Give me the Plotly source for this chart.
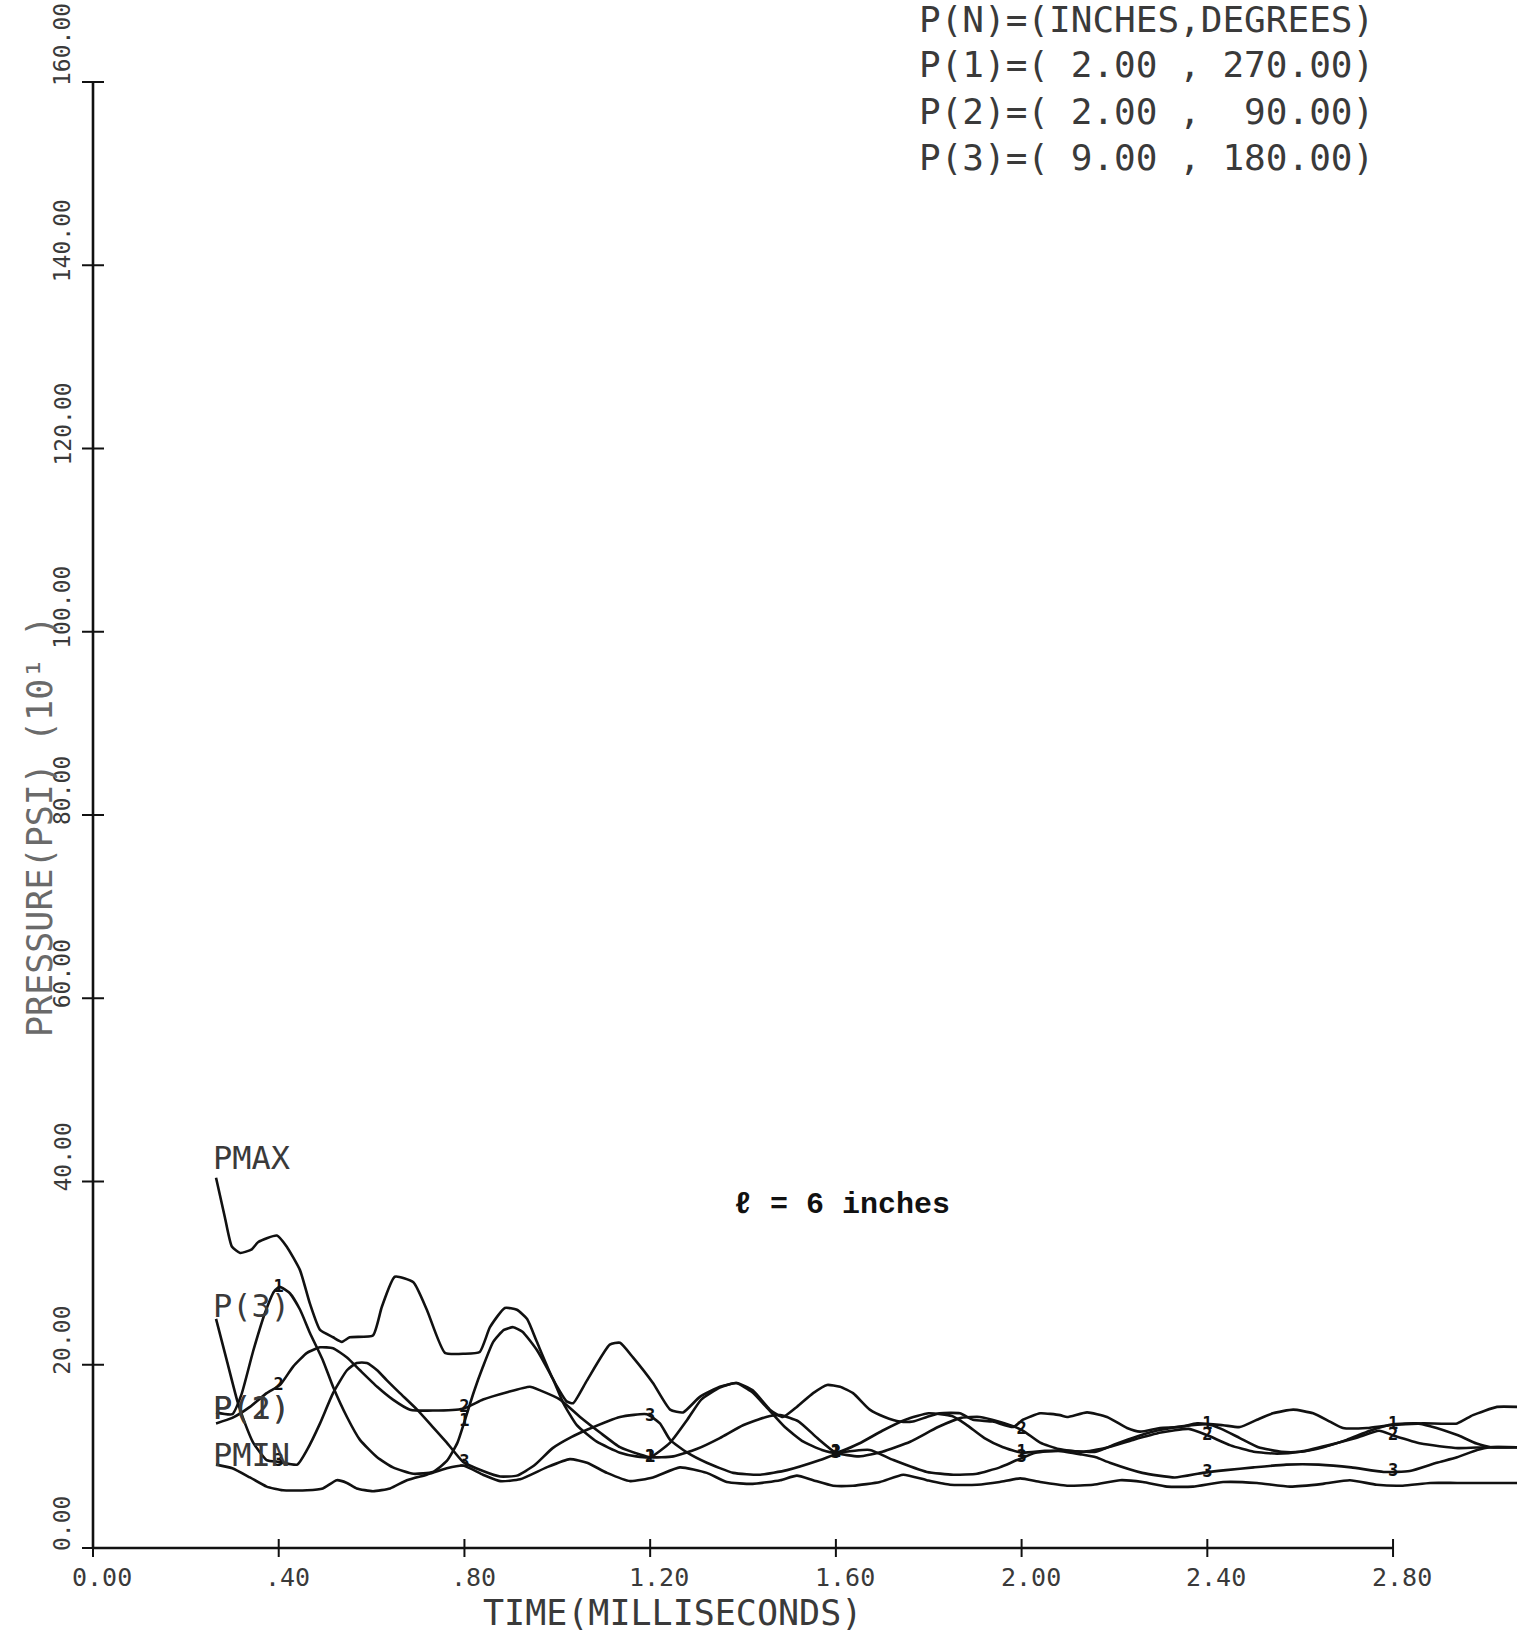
import numpy as np
import plotly.graph_objects as go

# ---- pressure histories: (time in ms, pressure in psi x 10) ----
pmax = [(0.265, 40.4), (0.284, 36.1), (0.299, 32.9), (0.317, 32.2), (0.342, 32.6), (0.356, 33.4),
        (0.396, 34.1), (0.417, 32.9), (0.446, 30.3), (0.467, 26.7), (0.489, 23.8), (0.517, 23.0),
        (0.536, 22.5), (0.553, 23.0), (0.603, 23.2), (0.622, 26.3), (0.650, 29.6), (0.690, 29.0),
        (0.719, 26.0), (0.758, 21.3), (0.800, 21.2), (0.833, 21.4), (0.855, 24.1), (0.887, 26.2),
        (0.913, 26.0), (0.935, 25.0), (0.956, 22.5), (0.990, 18.5), (1.020, 16.0), (1.034, 15.8),
        (1.064, 18.3), (1.113, 22.2), (1.135, 22.4), (1.163, 20.8), (1.206, 18.0), (1.243, 15.1),
        (1.271, 14.8), (1.307, 16.5), (1.350, 17.6), (1.387, 18.0), (1.421, 17.2), (1.458, 15.1),
        (1.486, 14.3), (1.516, 15.4), (1.551, 16.9), (1.581, 17.8), (1.609, 17.6), (1.637, 16.9),
        (1.673, 15.1), (1.705, 14.3), (1.738, 13.8), (1.766, 13.8), (1.796, 14.3), (1.824, 14.7),
        (1.867, 14.7), (1.895, 14.0), (1.938, 13.8), (1.982, 13.2), (2.003, 14.0), (2.040, 14.7),
        (2.083, 14.5), (2.098, 14.3), (2.141, 14.8), (2.184, 14.3), (2.227, 13.1), (2.255, 12.7),
        (2.298, 13.1), (2.341, 13.2), (2.378, 13.6), (2.434, 13.4), (2.470, 13.2), (2.507, 14.0),
        (2.541, 14.7), (2.585, 15.1), (2.628, 14.7), (2.664, 13.8), (2.692, 13.1), (2.744, 13.1),
        (2.793, 13.4), (2.865, 13.6), (2.938, 13.6), (2.972, 14.5), (3.024, 15.4), (3.067, 15.4)]

p1 = [(0.265, 14.8), (0.300, 14.6), (0.320, 16.8), (0.345, 21.5), (0.370, 25.6), (0.390, 28.0),
      (0.402, 28.5), (0.424, 27.8), (0.446, 26.0), (0.467, 23.5), (0.495, 20.5), (0.517, 17.6),
      (0.547, 14.3), (0.575, 11.8), (0.612, 9.9), (0.646, 8.8), (0.690, 8.1), (0.732, 8.3),
      (0.762, 9.5), (0.785, 11.5), (0.800, 13.8), (0.820, 17.0), (0.840, 19.8), (0.862, 22.5),
      (0.885, 23.8), (0.905, 24.1), (0.925, 23.6), (0.956, 21.6), (0.991, 18.4), (1.013, 15.8),
      (1.042, 13.4), (1.085, 11.6), (1.135, 10.4), (1.170, 10.0), (1.200, 9.9), (1.243, 11.5),
      (1.280, 14.0), (1.310, 16.2), (1.350, 17.5), (1.385, 18.0), (1.420, 17.0), (1.450, 15.4),
      (1.490, 13.2), (1.530, 11.6), (1.570, 10.7), (1.600, 10.4), (1.650, 11.4), (1.700, 12.8),
      (1.750, 14.0), (1.800, 14.7), (1.850, 14.4), (1.880, 13.5), (1.920, 12.0), (1.960, 11.0),
      (2.000, 10.4), (2.050, 10.6), (2.100, 10.6), (2.160, 10.5), (2.200, 11.3), (2.250, 12.2),
      (2.300, 12.9), (2.350, 13.3), (2.400, 13.5), (2.430, 13.0), (2.470, 12.0), (2.510, 11.0),
      (2.560, 10.5), (2.600, 10.5), (2.650, 11.0), (2.700, 11.8), (2.750, 12.8), (2.800, 13.5),
      (2.850, 13.6), (2.880, 13.3), (2.940, 12.3), (2.980, 11.4), (3.010, 11.0), (3.067, 11.0)]

p2 = [(0.265, 13.6), (0.300, 14.2), (0.338, 15.4), (0.374, 16.9), (0.403, 17.8), (0.431, 19.8),
      (0.461, 21.3), (0.489, 21.9), (0.517, 21.8), (0.547, 20.8), (0.575, 19.4), (0.612, 17.6),
      (0.646, 16.2), (0.683, 15.1), (0.732, 15.0), (0.797, 15.2), (0.840, 16.2), (0.892, 17.0),
      (0.941, 17.6), (0.963, 17.2), (1.006, 16.2), (1.049, 14.3), (1.092, 12.6), (1.135, 11.0),
      (1.178, 10.2), (1.200, 9.9), (1.250, 10.0), (1.300, 10.8), (1.350, 12.0), (1.400, 13.4),
      (1.450, 14.3), (1.480, 14.5), (1.520, 13.8), (1.560, 12.0), (1.600, 10.4), (1.650, 10.0),
      (1.700, 10.5), (1.760, 11.6), (1.820, 13.2), (1.870, 14.2), (1.910, 14.3), (1.950, 13.8),
      (2.000, 12.9), (2.040, 11.5), (2.080, 10.8), (2.130, 10.5), (2.180, 10.9), (2.240, 11.8),
      (2.300, 12.6), (2.360, 13.0), (2.400, 12.3), (2.450, 11.2), (2.500, 10.5), (2.550, 10.3),
      (2.600, 10.5), (2.660, 11.2), (2.720, 12.0), (2.770, 12.8), (2.800, 12.3), (2.860, 11.4),
      (2.940, 10.9), (3.000, 11.0), (3.067, 11.0)]

p3 = [(0.265, 25.0), (0.288, 20.5), (0.310, 16.2), (0.323, 14.2), (0.345, 11.5), (0.374, 9.6),
      (0.400, 9.4), (0.440, 9.1), (0.461, 10.7), (0.489, 13.6), (0.517, 16.9), (0.547, 19.4),
      (0.568, 20.2), (0.590, 20.2), (0.612, 19.4), (0.633, 18.3), (0.661, 16.9), (0.698, 15.1),
      (0.732, 13.2), (0.762, 11.5), (0.797, 9.4), (0.840, 8.4), (0.877, 7.8), (0.913, 7.9),
      (0.950, 9.0), (0.990, 10.9), (1.030, 12.1), (1.064, 12.9), (1.135, 14.3), (1.193, 14.6),
      (1.221, 13.6), (1.243, 11.8), (1.280, 10.4), (1.322, 9.3), (1.379, 8.2), (1.437, 8.0),
      (1.495, 8.5), (1.566, 9.6), (1.609, 10.4), (1.673, 10.7), (1.724, 9.6), (1.796, 8.3),
      (1.853, 8.0), (1.904, 8.1), (1.953, 8.8), (1.990, 9.6), (2.030, 10.4), (2.080, 10.6),
      (2.130, 10.2), (2.160, 9.9), (2.190, 9.3), (2.260, 8.2), (2.330, 7.7), (2.390, 8.2),
      (2.440, 8.5), (2.500, 8.8), (2.570, 9.1), (2.640, 9.1), (2.710, 8.8), (2.780, 8.3),
      (2.836, 8.4), (2.894, 9.3), (2.938, 9.9), (2.981, 10.7), (3.009, 11.0), (3.067, 11.0)]

pmin = [(0.265, 9.1), (0.300, 8.7), (0.338, 7.7), (0.374, 6.7), (0.409, 6.3), (0.461, 6.3),
        (0.495, 6.5), (0.525, 7.4), (0.547, 7.1), (0.568, 6.5), (0.603, 6.2), (0.640, 6.5),
        (0.676, 7.4), (0.719, 8.0), (0.762, 8.7), (0.797, 9.0), (0.840, 8.0), (0.877, 7.3),
        (0.920, 7.5), (0.977, 8.8), (1.027, 9.7), (1.064, 9.3), (1.107, 8.2), (1.157, 7.3),
        (1.206, 7.7), (1.264, 8.8), (1.322, 8.2), (1.365, 7.2), (1.421, 7.0), (1.480, 7.4),
        (1.516, 7.9), (1.551, 7.4), (1.594, 6.8), (1.637, 6.8), (1.695, 7.2), (1.745, 8.0),
        (1.796, 7.4), (1.846, 6.9), (1.904, 6.9), (1.953, 7.2), (1.997, 7.6), (2.040, 7.2),
        (2.098, 6.8), (2.154, 6.9), (2.212, 7.4), (2.261, 7.2), (2.313, 6.7), (2.369, 6.7),
        (2.434, 7.2), (2.507, 7.1), (2.578, 6.7), (2.649, 7.0), (2.707, 7.4), (2.765, 6.9),
        (2.821, 6.8), (2.880, 7.1), (2.938, 7.1), (3.067, 7.1)]

# ---- axes ----
x_ticks = [0.0, 0.4, 0.8, 1.2, 1.6, 2.0, 2.4, 2.8]
x_tick_labels = ["0.00", ".40", ".80", "1.20", "1.60", "2.00", "2.40", "2.80"]
y_ticks = [0, 20, 40, 60, 80, 100, 120, 140, 160]
y_tick_labels = ["0.00", "20.00", "40.00", "60.00", "80.00", "100.00", "120.00", "140.00", "160.00"]

# gauge identification symbols plotted on P(1..3) every 0.4 ms
symbol_times = [0.4, 0.8, 1.2, 1.6, 2.0, 2.4, 2.8]

legend_lines = ["P(N)=(INCHES,DEGREES)",
                "P(1)=( 2.00 , 270.00)",
                "P(2)=( 2.00 ,  90.00)",
                "P(3)=( 9.00 , 180.00)"]

# ---- page geometry (pixels) ----
W, H = 1518, 1634
ML, MR, MT, MB = 65, 0, 55, 58
X0_PX, Y0_PX = 93, 1548          # pixel position of the origin
PX_PER_MS = 464.3
PX_PER_UNIT = 9.1625

x_lo = -(X0_PX - ML) / PX_PER_MS
x_hi = x_lo + (W - ML - MR) / PX_PER_MS
y_lo = -((H - MB) - Y0_PX) / PX_PER_UNIT
y_hi = (Y0_PX - MT) / PX_PER_UNIT


def paper_x(px):
    return (px - ML) / (W - ML - MR)


def paper_y(py):
    return ((H - MB) - py) / (H - MB - MT)


INK = "#111111"
PEN = "#3a3a3a"
MONO = "DejaVu Sans Mono, Liberation Mono, monospace"

fig = go.Figure()

curves = [("PMAX", pmax), ("P(1)", p1), ("P(2)", p2), ("P(3)", p3), ("PMIN", pmin)]
for name, pts in curves:
    t, v = zip(*pts)
    fig.add_trace(go.Scatter(x=list(t), y=list(v), mode="lines", name=name,
                             line=dict(color=INK, width=2.6, shape="spline", smoothing=0.5),
                             hoverinfo="skip"))

for sym, pts in [("1", p1), ("2", p2), ("3", p3)]:
    t, v = zip(*pts)
    ys = np.interp(symbol_times, t, v)
    fig.add_trace(go.Scatter(x=symbol_times, y=ys, mode="text", text=[f"<b>{sym}</b>"] * len(symbol_times),
                             textposition="middle center",
                             textfont=dict(family=MONO, size=17, color=INK),
                             hoverinfo="skip"))

shapes = []
# axis lines
shapes.append(dict(type="line", xref="x", yref="y", x0=0, x1=x_ticks[-1], y0=0, y1=0,
                   line=dict(color=INK, width=2.6)))
shapes.append(dict(type="line", xref="x", yref="y", x0=0, x1=0, y0=0, y1=y_ticks[-1],
                   line=dict(color=INK, width=2.6)))
# cross ticks
for xt in x_ticks:
    shapes.append(dict(type="line", xref="x", yref="y", x0=xt, x1=xt,
                       ysizemode="pixel", yanchor=0, y0=-9, y1=9,
                       line=dict(color=INK, width=2)))
for yt in y_ticks:
    shapes.append(dict(type="line", xref="x", yref="y", y0=yt, y1=yt,
                       xsizemode="pixel", xanchor=0, x0=-11, x1=11,
                       line=dict(color=INK, width=2)))

ann = []
for xt, lab in zip(x_ticks, x_tick_labels):
    ann.append(dict(x=xt, y=0, xref="x", yref="y", text=lab, showarrow=False,
                    xanchor="center", yanchor="middle", xshift=9, yshift=-29,
                    font=dict(family=MONO, size=25, color=PEN)))
for yt, lab in zip(y_ticks, y_tick_labels):
    ann.append(dict(x=0, y=yt, xref="x", yref="y", text=lab, showarrow=False,
                    textangle=-90, xanchor="center", yanchor="middle",
                    xshift=-31, yshift=24 if yt < 160 else 37,
                    font=dict(family=MONO, size=23, color=PEN)))

# axis titles
ann.append(dict(x=paper_x(672), y=paper_y(1613), xref="paper", yref="paper",
                text="TIME(MILLISECONDS)", showarrow=False, xanchor="center", yanchor="middle",
                font=dict(family=MONO, size=35, color=PEN)))
ann.append(dict(x=paper_x(40), y=paper_y(827), xref="paper", yref="paper",
                text="PRESSURE(PSI) (10¹ )", showarrow=False, textangle=-90,
                xanchor="center", yanchor="middle",
                font=dict(family=MONO, size=35, color="#6a6a6a")))

# gauge location block
for i, line in enumerate(legend_lines):
    ann.append(dict(x=paper_x(917), y=paper_y(19 + 46 * i), xref="paper", yref="paper",
                    text=line.replace(" ", "&nbsp;"), showarrow=False,
                    xanchor="left", yanchor="middle",
                    font=dict(family=MONO, size=36, color=PEN)))

# curve labels at the start of each trace
for name, pts, dy in [("PMAX", pmax, 2.2), ("P(3)", p3, 1.4), ("P(1)", p1, 0.5),
                      ("P(2)", p2, 1.7), ("PMIN", pmin, 1.0)]:
    ann.append(dict(x=pts[0][0], y=pts[0][1] + dy, xref="x", yref="y", text=name,
                    showarrow=False, xanchor="left", yanchor="middle", xshift=-5,
                    font=dict(family=MONO, size=32, color=PEN)))

ann.append(dict(x=paper_x(842), y=paper_y(1205), xref="paper", yref="paper",
                text="<b>ℓ = 6 inches</b>", showarrow=False, xanchor="center", yanchor="middle",
                font=dict(family="Liberation Mono, Courier New, monospace", size=30, color=INK)))

fig.update_layout(
    width=W, height=H,
    margin=dict(l=ML, r=MR, t=MT, b=MB, pad=0),
    paper_bgcolor="white", plot_bgcolor="white",
    showlegend=False,
    xaxis=dict(range=[x_lo, x_hi], showgrid=False, zeroline=False, showticklabels=False,
               ticks="", showline=False, fixedrange=True),
    yaxis=dict(range=[y_lo, y_hi], showgrid=False, zeroline=False, showticklabels=False,
               ticks="", showline=False, fixedrange=True),
    shapes=shapes,
    annotations=ann,
)

fig.write_html("out.html")
